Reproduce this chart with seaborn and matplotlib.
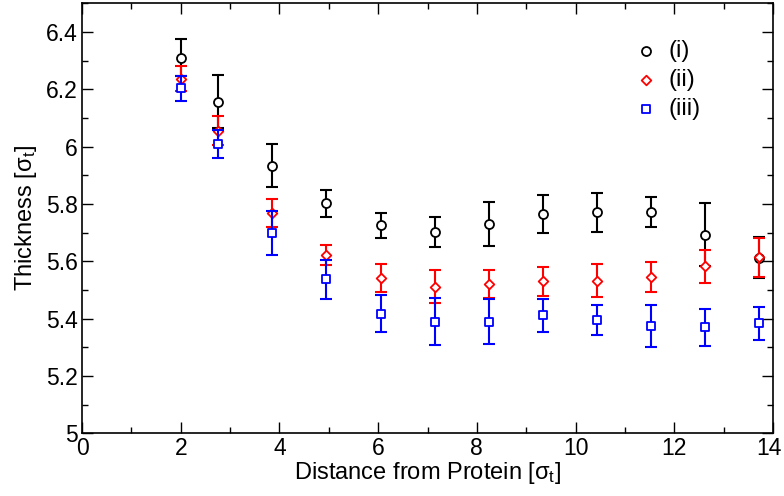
import numpy as np
import pandas as pd
import matplotlib
matplotlib.use("Agg")
import matplotlib.pyplot as plt
import matplotlib.transforms as mtransforms
import seaborn as sns
from matplotlib.ticker import MultipleLocator

# ---- data ----
distance = [2.0, 2.76, 3.85, 4.95, 6.05, 7.15, 8.24, 9.34, 10.43, 11.53, 12.62, 13.72]

thick_i = [6.31, 6.157, 5.934, 5.802, 5.725, 5.701, 5.731, 5.765, 5.772, 5.772, 5.692, 5.613]
err_i = [0.065, 0.092, 0.075, 0.048, 0.043, 0.052, 0.077, 0.065, 0.068, 0.052, 0.11, 0.072]

thick_ii = [6.237, 6.056, 5.769, 5.622, 5.542, 5.512, 5.521, 5.530, 5.532, 5.545, 5.582, 5.614]
err_ii = [0.043, 0.05, 0.05, 0.035, 0.048, 0.058, 0.05, 0.05, 0.057, 0.052, 0.057, 0.068]

thick_iii = [6.203, 6.010, 5.699, 5.538, 5.417, 5.390, 5.390, 5.411, 5.396, 5.375, 5.370, 5.384]
err_iii = [0.043, 0.048, 0.077, 0.068, 0.065, 0.083, 0.077, 0.056, 0.053, 0.074, 0.064, 0.058]

labels = ["(i)", "(ii)", "(iii)"]
colors = ["black", "red", "blue"]
markers = ["o", "D", "s"]
sizes = [42, 24, 32]

sns.set_theme(style="ticks")
plt.rcParams["font.family"] = ["Liberation Sans", "DejaVu Sans"]
plt.rcParams["mathtext.fontset"] = "custom"
plt.rcParams["mathtext.rm"] = "Liberation Sans"
plt.rcParams["mathtext.it"] = "Liberation Sans"
plt.rcParams["text.color"] = "black"
plt.rcParams["axes.labelcolor"] = "black"
plt.rcParams["xtick.color"] = "black"
plt.rcParams["ytick.color"] = "black"

fig = plt.figure(figsize=(7.84, 4.96), dpi=100)
ax = fig.add_axes([0.1046, 0.1264, 0.8814, 0.8669])

series = [(thick_i, err_i), (thick_ii, err_ii), (thick_iii, err_iii)]
for k, ((y, e), lab, c, m, s) in enumerate(zip(series, labels, colors, markers, sizes)):
    df = pd.DataFrame({"distance": distance, "thickness": y, "err": e})
    ax.errorbar(df["distance"], df["thickness"], yerr=df["err"], fmt="none",
                ecolor=c, elinewidth=1.5, capsize=4, capthick=1.5, zorder=2 + 2 * k)
    sns.scatterplot(data=df, x="distance", y="thickness", marker=m, s=s,
                    color="white", edgecolor=c, linewidth=1.3, ax=ax,
                    label=lab, zorder=3 + 2 * k)

ax.set_xlim(0, 14)
ax.set_ylim(5, 6.5)
ax.set_xticks([0, 2, 4, 6, 8, 10, 12, 14])
ax.xaxis.set_minor_locator(MultipleLocator(1))
ax.yaxis.set_minor_locator(MultipleLocator(0.1))
ax.set_yticks([5, 5.2, 5.4, 5.6, 5.8, 6, 6.2, 6.4])
ax.set_yticklabels(["5", "5.2", "5.4", "5.6", "5.8", "6", "6.2", "6.4"])
ax.tick_params(which="both", direction="in", top=True, right=True, width=1.0,
               labelsize=16.5)
ax.tick_params(which="major", length=8)
ax.tick_params(axis="x", which="major", pad=3)
ax.tick_params(axis="y", which="major", pad=3)
ax.tick_params(which="minor", length=4)
for sp in ax.spines.values():
    sp.set_linewidth(1.2)
    sp.set_color("black")

ax.set_xlabel(r"Distance from Protein [$\sigma_t$]", fontsize=17, labelpad=0)
ax.set_ylabel(r"Thickness [$\sigma_t$]", fontsize=17, labelpad=5)

leg = ax.legend(loc="upper left", bbox_to_anchor=(0.799, 0.915), frameon=False,
                fontsize=17, handlelength=1.0, handletextpad=0.45,
                labelspacing=0.3, borderpad=0, borderaxespad=0)

# nudge the last x tick label so it stays inside the canvas
last = ax.xaxis.get_major_ticks()[-1].label1
last.set_transform(last.get_transform() +
                   mtransforms.ScaledTranslation(-4 / 100, 0, fig.dpi_scale_trans))

fig.savefig("out.png", dpi=100)
